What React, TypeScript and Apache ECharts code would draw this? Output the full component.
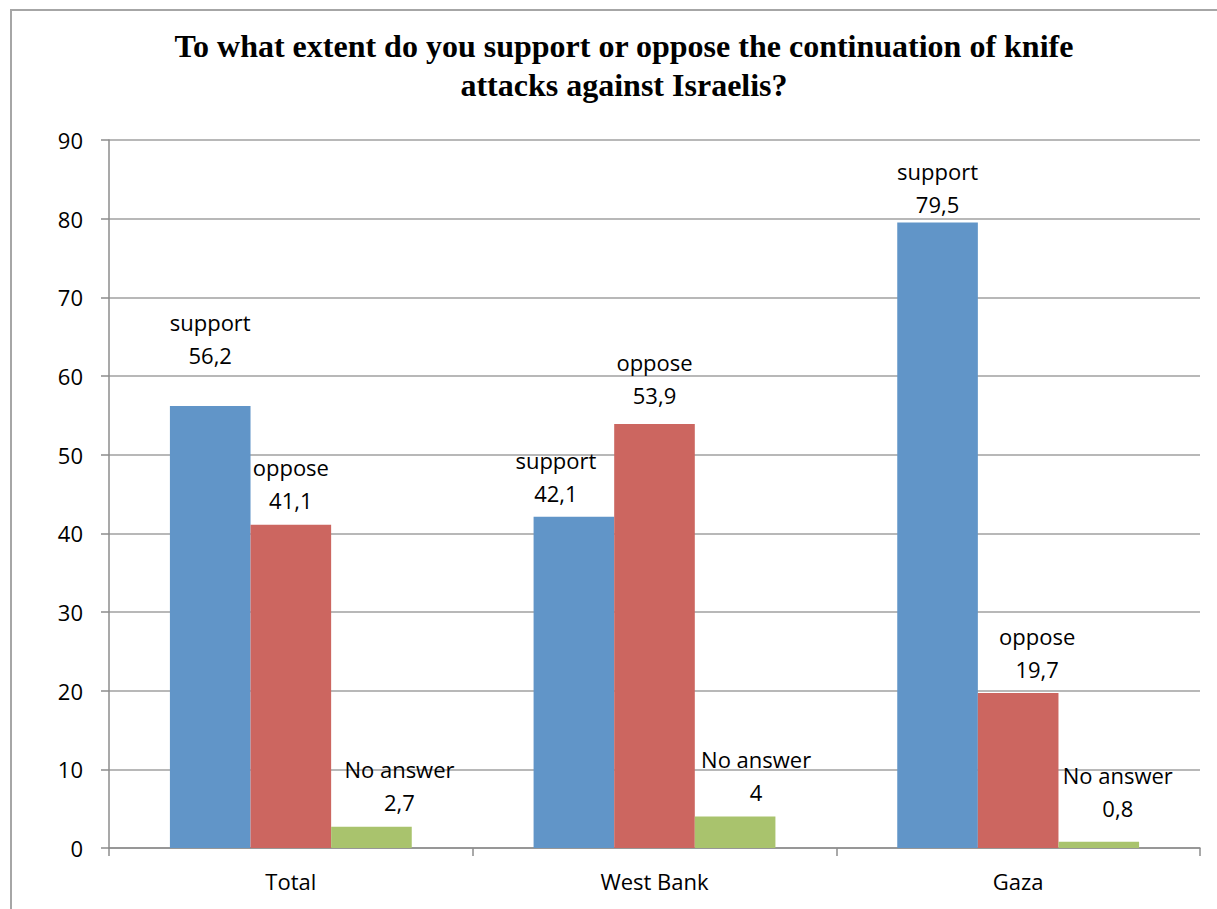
import React, { useEffect, useRef } from "react";
import * as echarts from "echarts";

const categories = ["Total", "West Bank", "Gaza"];
const supportValues = [56.2, 42.1, 79.5];
const opposeValues = [41.1, 53.9, 19.7];
const noAnswerValues = [2.7, 4, 0.8];
const seriesNames = ["support", "oppose", "No answer"];
const yTicks = [0, 10, 20, 30, 40, 50, 60, 70, 80, 90];

const titleText =
  "To what extent do you support or oppose the continuation of knife\nattacks against Israelis?";

// label offsets (style only), per series per category
const labelOffsets: number[][][] = [
  [[0, -26], [-18, 1], [0, 6]],
  [[0, 0], [0, -4], [19, 0]],
  [[28, 0], [21, 0], [19, -9]],
];

const colors = ["#6195C8", "#CC6660", "#A9C36D"];

const fmt = (v: number) => String(v).replace(".", ",");

export default function App() {
  const ref = useRef<HTMLDivElement>(null);
  useEffect(() => {
    if (!ref.current) return;
    const chart = echarts.init(ref.current, null, { renderer: "svg" });
    const allValues = [supportValues, opposeValues, noAnswerValues];
    const series = allValues.map((vals, si) => ({
      name: seriesNames[si],
      type: "bar",
      barGap: "0%",
      barCategoryGap: "33.5%",
      itemStyle: { color: colors[si] },
      data: vals.map((v, ci) => ({
        value: v,
        label: { offset: labelOffsets[si][ci] },
      })),
      label: {
        show: true,
        position: "top",
        distance: 8,
        color: "#000",
        fontFamily: "Open Sans",
        fontSize: 22,
        lineHeight: 33,
        formatter: (p: any) => `${seriesNames[si]}\n${fmt(p.value)}`,
      },
    }));
    chart.setOption({
      animation: false,
      backgroundColor: "#fff",
      title: {
        text: titleText,
        left: 619,
        top: 21,
        textAlign: "center",
        textStyle: {
          fontFamily: "Liberation Serif",
          fontWeight: "bold",
          fontSize: 32,
          lineHeight: 39,
          color: "#000",
        },
      },
      graphic: [
        {
          type: "rect",
          shape: { x: 11, y: 10, width: 1220, height: 920 },
          style: { fill: "none", stroke: "#A6A6A6", lineWidth: 2 },
          silent: true,
        },
      ],
      grid: { left: 109, right: 17, top: 140, bottom: 61 },
      xAxis: {
        type: "category",
        data: categories,
        axisLine: { lineStyle: { color: "#8C8C8C", width: 1.5 } },
        axisTick: { show: true, length: 8, lineStyle: { color: "#8C8C8C", width: 1.5 } },
        axisLabel: {
          color: "#000",
          fontFamily: "Open Sans",
          fontSize: 22,
          margin: 22,
        },
      },
      yAxis: {
        type: "value",
        min: yTicks[0],
        max: yTicks[yTicks.length - 1],
        interval: 10,
        axisLine: { show: true, lineStyle: { color: "#8C8C8C", width: 1.5 } },
        axisTick: { show: true, length: 8, lineStyle: { color: "#8C8C8C", width: 1.5 } },
        splitLine: { lineStyle: { color: "#A0A0A0", width: 1.5 } },
        axisLabel: {
          color: "#000",
          fontFamily: "Open Sans",
          fontSize: 22,
          margin: 26,
        },
      },
      series,
    });
    return () => chart.dispose();
  }, []);
  return (
    <div
      ref={ref}
      style={{ position: "fixed", left: 0, top: 0, width: 1217, height: 909 }}
    />
  );
}
